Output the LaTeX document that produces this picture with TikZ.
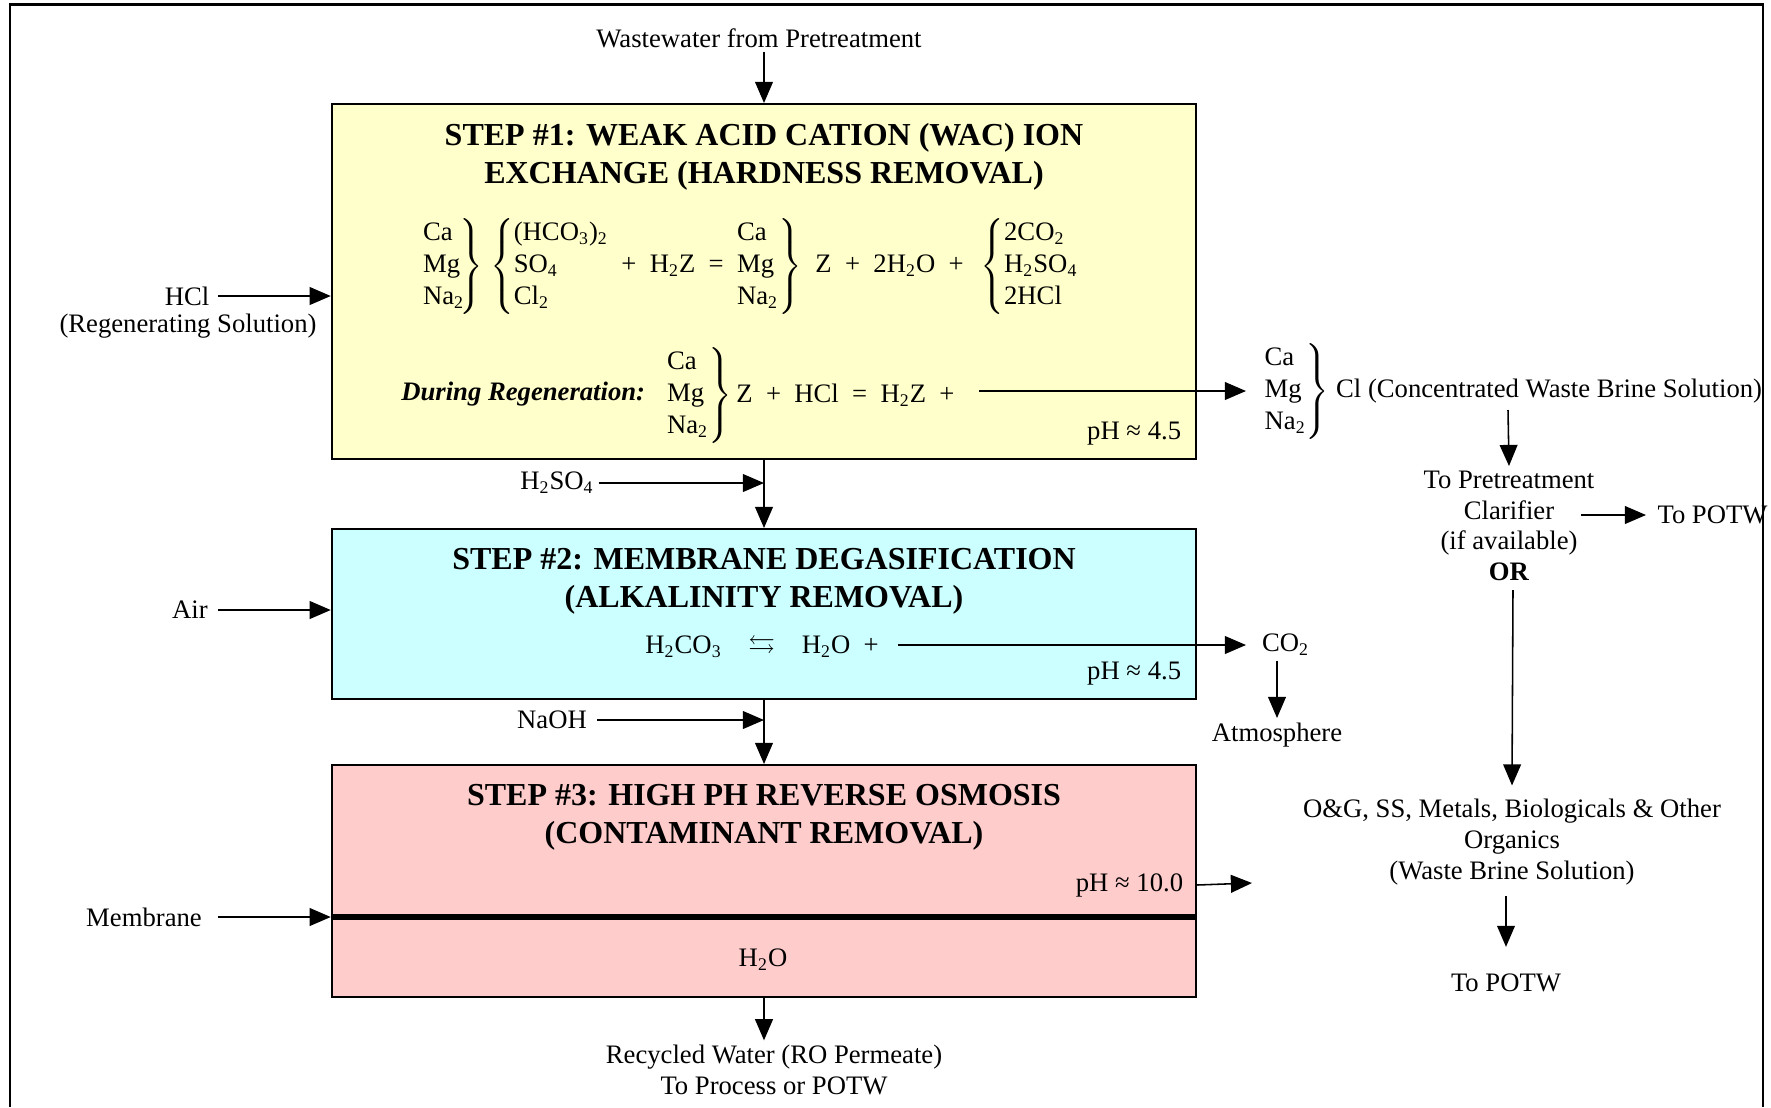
\documentclass[tikz,border=0pt]{standalone}
\usepackage{amssymb}
\usepackage{fontspec}
\setmainfont{Liberation Serif}
\usetikzlibrary{arrows.meta}

\definecolor{wacyellow}{HTML}{FFFFCC}
\definecolor{degcyan}{HTML}{CCFFFF}
\definecolor{ropink}{HTML}{FFCCCC}

\newcommand{\chsub}[1]{\textsubscript{#1}}
\newcommand{\ionstack}[1]{\begin{tabular}{@{}l@{}}#1\end{tabular}}
\renewcommand{\arraystretch}{1.05}

\begin{document}
\begin{tikzpicture}[x=0.45pt,y=-0.45pt,
    stepbox/.style={draw, line width=0.9pt, minimum width=389pt, inner sep=0pt},
    steptitle/.style={font=\fontsize{14.4}{17.2}\selectfont\bfseries, align=center},
    lbl/.style={font=\fontsize{12}{13.8}\selectfont, inner sep=2pt},
    eqn/.style={font=\fontsize{12}{13.8}\selectfont, inner sep=0pt, anchor=west},
    flow/.style={-{Triangle[length=9.5pt,width=8pt]}, line width=0.7pt}]

        \useasboundingbox (0,0) rectangle (1771,1107);
        \draw[line width=1pt] (10,1107) -- (10,4.5) -- (1763,4.5) -- (1763,1107);

        \begin{scope}[every node/.style=stepbox]
          \node[fill=wacyellow, minimum height=159.75pt] (wac) at (764,281.5) {};
          \node[fill=degcyan, minimum height=76.5pt] (deg) at (764,614) {};
          \node[fill=ropink, minimum height=104.4pt] (ro) at (764,881) {};
        \end{scope}

        \begin{scope}[every node/.style=steptitle]
          \node (wact) at (764,157) {STEP \#1: WEAK ACID CATION (WAC) ION\\EXCHANGE (HARDNESS REMOVAL)};
          \node (degt) at (764,581) {STEP \#2: MEMBRANE DEGASIFICATION\\(ALKALINITY REMOVAL)};
          \node (rot)  at (764,817) {STEP \#3: HIGH PH REVERSE OSMOSIS\\(CONTAMINANT REMOVAL)};
        \end{scope}

        \begin{scope}[every node/.style=eqn]
          \node (hard)  at (420,266) {$\left.\ionstack{Ca\\Mg\\Na\chsub{2}}\hspace{-2pt}\right\}\hspace{1pt}\left\{\ionstack{(HCO\chsub{3})\chsub{2}\\SO\chsub{4}\\Cl\chsub{2}}\right.$};
          \node (resin) at (621,266) {+\enspace H\chsub{2}Z\enspace=};
          \node (hard2) at (734,266) {$\left.\ionstack{Ca\\Mg\\Na\chsub{2}}\right\}$};
          \node (prod)  at (815,266) {Z\enspace+\enspace 2H\chsub{2}O\enspace+};
          \node (acids) at (980,266) {$\left\{\ionstack{2CO\chsub{2}\\H\chsub{2}SO\chsub{4}\\2HCl}\right.$};
          \node (regen) at (664,395) {$\left.\ionstack{Ca\\Mg\\Na\chsub{2}}\right\}$};
          \node (regeq) at (736,395) {Z\enspace+\enspace HCl\enspace=\enspace H\chsub{2}Z\enspace+};
          \node (carb)  at (645,647) {H\chsub{2}CO\chsub{3}\hspace{1em}$\leftrightarrows$\hspace{1em}H\chsub{2}O\enspace+};
        \end{scope}

        \begin{scope}[every node/.style=lbl]
          \node (ww)    at (759,38)  {Wastewater from Pretreatment};
          \node (hcl)   at (187,296) {HCl};
          \node (hcln)  at (188,326) {(Regenerating Solution)};
          \node (air)   at (190,610) {Air};
          \node (memb)  at (144,917) {Membrane};
          \node (acid)  at (557,483) {H\chsub{2}SO\chsub{4}};
          \node (naoh)  at (552,720) {NaOH};
          \node[anchor=east] (regl) at (650,394) {\bfseries\itshape During Regeneration:};
          \node[anchor=east] (ph1)  at (1186,434) {pH ≈ 4.5};
          \node[anchor=east] (ph2)  at (1186,674) {pH ≈ 4.5};
          \node[anchor=east] (ph3)  at (1188,885) {pH ≈ 10.0};
          \node (h2o)   at (763,960) {H\chsub{2}O};
          \node[align=center] (rec) at (774,1070) {Recycled Water (RO Permeate)\\To Process or POTW};
          \node[anchor=west, inner xsep=7pt] (brine) at (1246,391) {$\left.\ionstack{Ca\\Mg\\Na\chsub{2}}\right\}$ Cl (Concentrated Waste Brine Solution)};
          \node[anchor=west, inner xsep=7pt] (co2) at (1246,645) {CO\chsub{2}};
          \node (atm)   at (1277,735) {Atmosphere};
          \node[align=center, anchor=north] (topre) at (1509,466) {To Pretreatment\\Clarifier\\(if available)\\\textbf{OR}};
          \node[anchor=west, inner xsep=5pt] (potw1) at (1646,515) {To POTW};
          \node[align=center] (ogss) at (1512,842) {O\&G, SS, Metals, Biologicals \& Other\\Organics\\(Waste Brine Solution)};
          \node (potw2) at (1506,983) {To POTW};
        \end{scope}

        \coordinate (feedx)   at (218,0);
        \coordinate (dosex)   at (597,0);
        \coordinate (regout)  at (979,391);
        \coordinate (carbout) at (898,645);
        \coordinate (rejout)  at (1252,883);
        \coordinate (brinedn) at (1508,410);
        \coordinate (clarout) at (1581,515);
        \coordinate (ordn)    at (1513,590);

        \draw[line width=3pt] (memb.east -| ro.west) -- (memb.east -| ro.east);

        \begin{scope}[every edge/.style={draw, flow}]
          \path (ww.south -| wac.north) edge (wac.north);
          \path (hcl.east -| feedx) edge (hcl.east -| wac.west);
          \path (regout) edge (brine.west);
          \path (wac.south) edge (deg.north);
          \path (acid.east) edge (acid.east -| wac.south);
          \path (air.east -| feedx) edge (air.east -| deg.west);
          \path (carbout) edge (co2.west);
          \path (atm.north |- co2.south) edge (atm.north);
          \path (deg.south) edge (ro.north);
          \path (naoh.east -| dosex) edge (naoh.east -| deg.south);
          \path (memb.east -| feedx) edge (memb.east -| ro.west);
          \path (ro.east |- ph3.east) edge (rejout);
          \path (ro.south) edge (rec.north -| ro.south);
          \path (brinedn) edge (topre.north);
          \path (clarout) edge (potw1.west);
          \path (ordn) edge ([yshift=4pt]ogss.north);
          \path ([yshift=-3pt]potw2.north |- ogss.south) edge ([yshift=10pt]potw2.north);
        \end{scope}

      \end{tikzpicture}
\end{document}
